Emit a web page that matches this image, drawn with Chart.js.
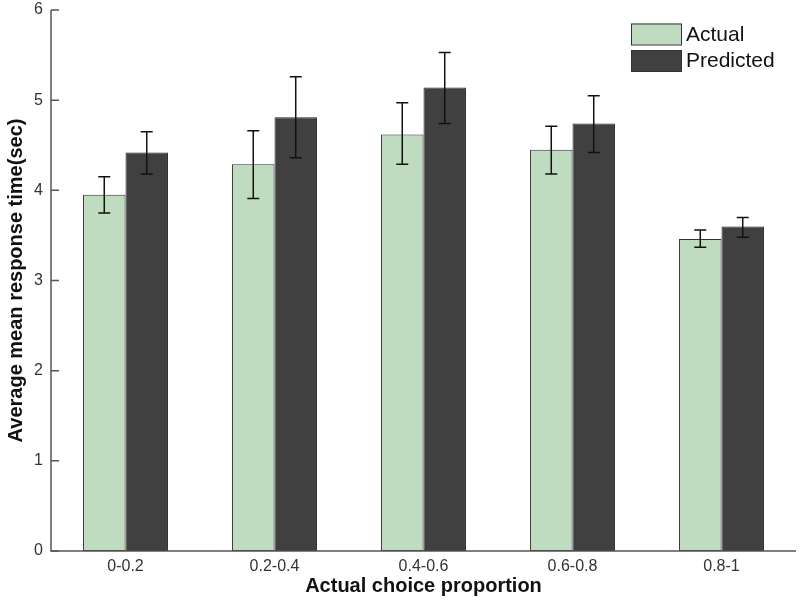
<!DOCTYPE html>
<html>
<head>
<meta charset="utf-8">
<script src="https://cdn.jsdelivr.net/npm/chart.js@4/dist/chart.umd.min.js"></script>
<style>
  html, body { margin: 0; padding: 0; background: #ffffff; }
  #wrap { width: 800px; height: 603px; }
</style>
</head>
<body>
<div id="wrap"><canvas id="c" width="800" height="603"></canvas></div>
<script>
const categories = ['0-0.2', '0.2-0.4', '0.4-0.6', '0.6-0.8', '0.8-1'];
const actual = [3.95, 4.29, 4.62, 4.45, 3.46];
const actualLow = [3.75, 3.91, 4.29, 4.18, 3.37];
const actualHigh = [4.15, 4.66, 4.97, 4.71, 3.56];
const predicted = [4.42, 4.81, 5.14, 4.74, 3.60];
const predictedLow = [4.18, 4.36, 4.74, 4.42, 3.48];
const predictedHigh = [4.65, 5.26, 5.53, 5.05, 3.70];
const yTicks = [0, 1, 2, 3, 4, 5, 6];

const FONT = "'Liberation Sans', Arial, sans-serif";
const errors = [
  { low: actualLow, high: actualHigh },
  { low: predictedLow, high: predictedHigh }
];

const errorBarPlugin = {
  id: 'errorBars',
  afterDatasetsDraw(chart) {
    const ctx = chart.ctx;
    const yScale = chart.scales.y;
    ctx.save();
    ctx.strokeStyle = '#111111';
    ctx.lineWidth = 1.5;
    chart.data.datasets.forEach((ds, di) => {
      const meta = chart.getDatasetMeta(di);
      meta.data.forEach((bar, i) => {
        const x = bar.x;
        const yl = yScale.getPixelForValue(errors[di].low[i]);
        const yh = yScale.getPixelForValue(errors[di].high[i]);
        ctx.beginPath();
        ctx.moveTo(x, yl); ctx.lineTo(x, yh);
        ctx.moveTo(x - 6, yl); ctx.lineTo(x + 6, yl);
        ctx.moveTo(x - 6, yh); ctx.lineTo(x + 6, yh);
        ctx.stroke();
      });
    });
    ctx.restore();
  }
};

const axesPlugin = {
  id: 'axesDecor',
  afterDraw(chart) {
    const ctx = chart.ctx;
    const a = chart.chartArea;
    const yScale = chart.scales.y;
    ctx.save();
    ctx.strokeStyle = '#555555';
    ctx.lineWidth = 1.5;
    ctx.beginPath();
    ctx.moveTo(a.left, a.top);
    ctx.lineTo(a.left, a.bottom);
    ctx.lineTo(a.right, a.bottom);
    ctx.stroke();
    ctx.beginPath();
    yScale.ticks.forEach(t => {
      const y = yScale.getPixelForValue(t.value);
      ctx.moveTo(a.left, y);
      ctx.lineTo(a.left + 8, y);
    });
    ctx.stroke();

    // legend
    const items = chart.data.datasets.map(ds => ({ label: ds.label, fill: ds.backgroundColor }));
    const tops = [23.5, 50];
    items.forEach((it, i) => {
      ctx.fillStyle = it.fill;
      ctx.fillRect(631, tops[i], 50, 21);
      ctx.strokeStyle = '#333333';
      ctx.lineWidth = 1;
      ctx.strokeRect(631.5, tops[i] + 0.5, 50, 21);
      ctx.fillStyle = '#111111';
      ctx.font = '21px ' + FONT;
      ctx.textBaseline = 'middle';
      ctx.textAlign = 'left';
      ctx.fillText(it.label, 686, tops[i] + 11.5);
    });
    ctx.restore();
  }
};

new Chart(document.getElementById('c'), {
  type: 'bar',
  data: {
    labels: categories,
    datasets: [
      {
        label: 'Actual',
        data: actual,
        backgroundColor: '#c0dcc0',
        borderColor: '#333333',
        borderWidth: 1,
        borderSkipped: false,
        categoryPercentage: 0.57,
        barPercentage: 1.0
      },
      {
        label: 'Predicted',
        data: predicted,
        backgroundColor: '#404040',
        borderColor: '#222222',
        borderWidth: 1,
        borderSkipped: false,
        categoryPercentage: 0.57,
        barPercentage: 1.0
      }
    ]
  },
  options: {
    responsive: false,
    animation: false,
    devicePixelRatio: 1,
    layout: { padding: { top: 10, right: 4, left: 0, bottom: 0 } },
    plugins: {
      legend: { display: false },
      tooltip: { enabled: false }
    },
    scales: {
      x: {
        grid: { display: false, drawTicks: false },
        border: { display: false },
        ticks: {
          color: '#333333',
          font: { family: FONT, size: 16 },
          padding: 6
        },
        title: {
          display: true,
          text: 'Actual choice proportion',
          color: '#111111',
          font: { family: FONT, size: 20, weight: 'bold' },
          padding: { top: 2, bottom: 5 }
        },
        afterFit(scale) { scale.height = 52; scale.paddingLeft = 0; scale.paddingRight = 0; }
      },
      y: {
        min: 0,
        max: 6,
        afterBuildTicks(scale) { scale.ticks = yTicks.map(v => ({ value: v })); },
        grid: { display: false, drawTicks: false },
        border: { display: false },
        ticks: {
          color: '#333333',
          font: { family: FONT, size: 16 },
          padding: 8
        },
        title: {
          display: true,
          text: 'Average mean response time(sec)',
          color: '#111111',
          font: { family: FONT, size: 20, weight: 'bold' },
          padding: { top: 4, bottom: 0 }
        },
        afterFit(scale) { scale.width = 51; scale.paddingTop = 0; scale.paddingBottom = 0; }
      }
    }
  },
  plugins: [errorBarPlugin, axesPlugin]
});
</script>
</body>
</html>
